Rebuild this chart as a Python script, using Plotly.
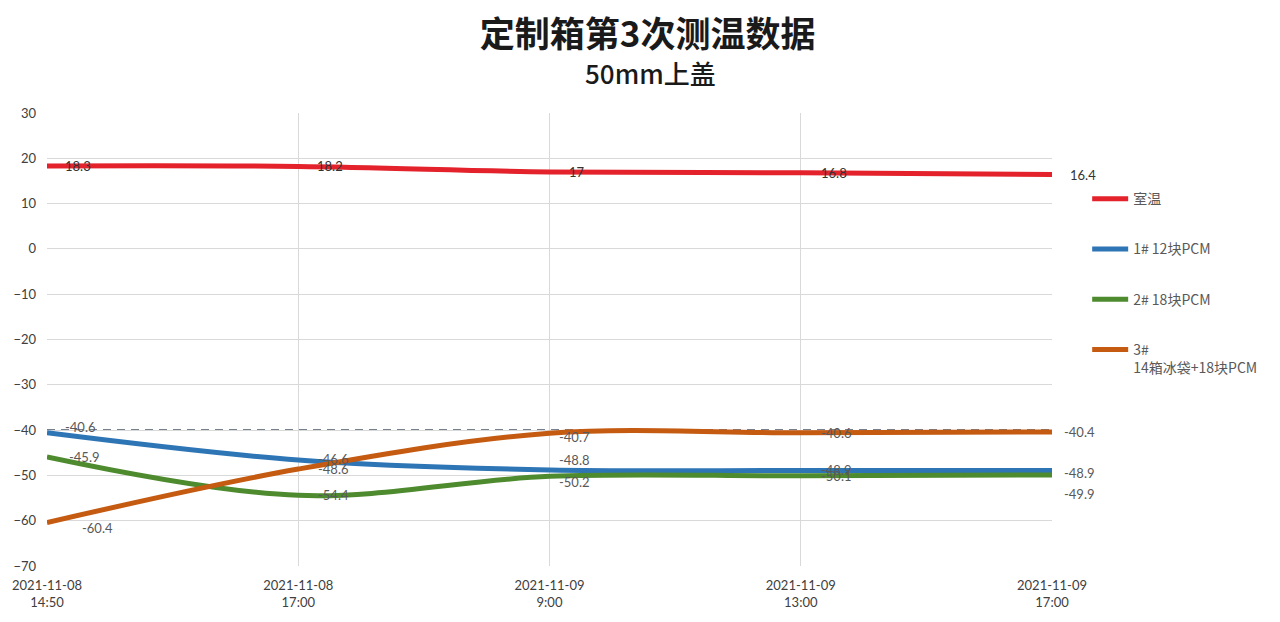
import plotly.graph_objects as go

categories = ["2021-11-08<br>14:50", "2021-11-08<br>17:00", "2021-11-09<br>9:00",
              "2021-11-09<br>13:00", "2021-11-09<br>17:00"]
room_temp = [18.3, 18.2, 17.0, 16.8, 16.4]
box1 = [-40.6, -46.6, -48.8, -48.9, -48.9]
box2 = [-45.9, -54.4, -50.2, -50.1, -49.9]
box3 = [-60.4, -48.6, -40.7, -40.6, -40.4]
names = ["室温", "1# 12块PCM", "2# 18块PCM", "3#<br>14箱冰袋+18块PCM"]
ref_line = -40

colors = ["#E3222B", "#2E75B6", "#4E8A2E", "#C55A11"]
series = [room_temp, box1, box2, box3]
# label offsets in pixels (x right, y up) relative to each point
xshifts = [
    [16, 17, 17, 18, 16],
    [16, 18, 7, 18, 10],
    [20, 18, 7, 18, 10],
    [33, 18, 7, 18, 10],
]
yshifts = [
    [0, 0, 0, 0, 0],
    [6, 1, 10, 0, -3],
    [0, 0, -6, 0, -19],
    [-5, 0, -4, 0, 0],
]
label_colors = ["#333333", "#595959", "#595959", "#595959"]

fig = go.Figure()
annotations = []
for i, (nm, vals) in enumerate(zip(names, series)):
    fig.add_trace(go.Scatter(
        x=categories, y=vals, name=nm, mode="lines",
        line=dict(color=colors[i], width=5, shape="spline", smoothing=1),
        legendgroup="g%d" % i, cliponaxis=False, hoverinfo="x+y+name",
    ))
    for j, v in enumerate(vals):
        annotations.append(dict(
            x=categories[j], y=v, xref="x", yref="y", text="%g" % v, showarrow=False,
            xanchor="left", yanchor="middle", xshift=xshifts[i][j], yshift=yshifts[i][j],
            font=dict(size=13, color=label_colors[i], family="Lato, Open Sans, sans-serif"),
        ))

annotations.append(dict(
    text="50mm上盖", xref="paper", yref="paper", x=0.6, y=1 + (113 - 72) / 453,
    xanchor="center", yanchor="middle", showarrow=False,
    font=dict(family="Noto Sans CJK SC", size=26, color="#1a1a1a", weight=500)))

fig.add_shape(type="line", xref="paper", x0=0, x1=1, yref="y", y0=ref_line, y1=ref_line,
              line=dict(color="#4A5568", width=1.5, dash="8px,6px"), layer="below")

fig.update_layout(
    width=1280, height=622,
    margin=dict(l=47, r=228, t=113, b=56),
    paper_bgcolor="white", plot_bgcolor="white",
    font=dict(family="Lato, Noto Sans CJK SC, sans-serif", size=13, color="#595959"),
    title=dict(text="定制箱第3次测温数据", xref="container", yref="container",
               x=0.506, xanchor="center", y=1 - 35 / 622, yanchor="middle",
               font=dict(family="Noto Sans CJK SC", size=35, color="#1a1a1a", weight=700)),
    annotations=annotations,
    legend=dict(x=1.035, y=0.845, xanchor="left", yanchor="top", tracegroupgap=29,
                valign="top", itemwidth=36, font=dict(size=14, color="#595959",
                                        family="Noto Sans CJK SC, sans-serif"),
                bgcolor="rgba(0,0,0,0)"),
    showlegend=True,
)
fig.update_xaxes(type="category", range=[0, 4], showgrid=True, gridcolor="#D9D9D9",
                 gridwidth=1, zeroline=False, showline=False, ticks="",
                 tickfont=dict(size=13, color="#404040"), ticklabelstandoff=10)
fig.update_yaxes(range=[-70, 30], dtick=10, showgrid=True, gridcolor="#D9D9D9",
                 gridwidth=1, zeroline=False, showline=False, ticks="",
                 tickfont=dict(size=13, color="#404040"), ticklabelstandoff=10)

fig.write_html("out.html")
